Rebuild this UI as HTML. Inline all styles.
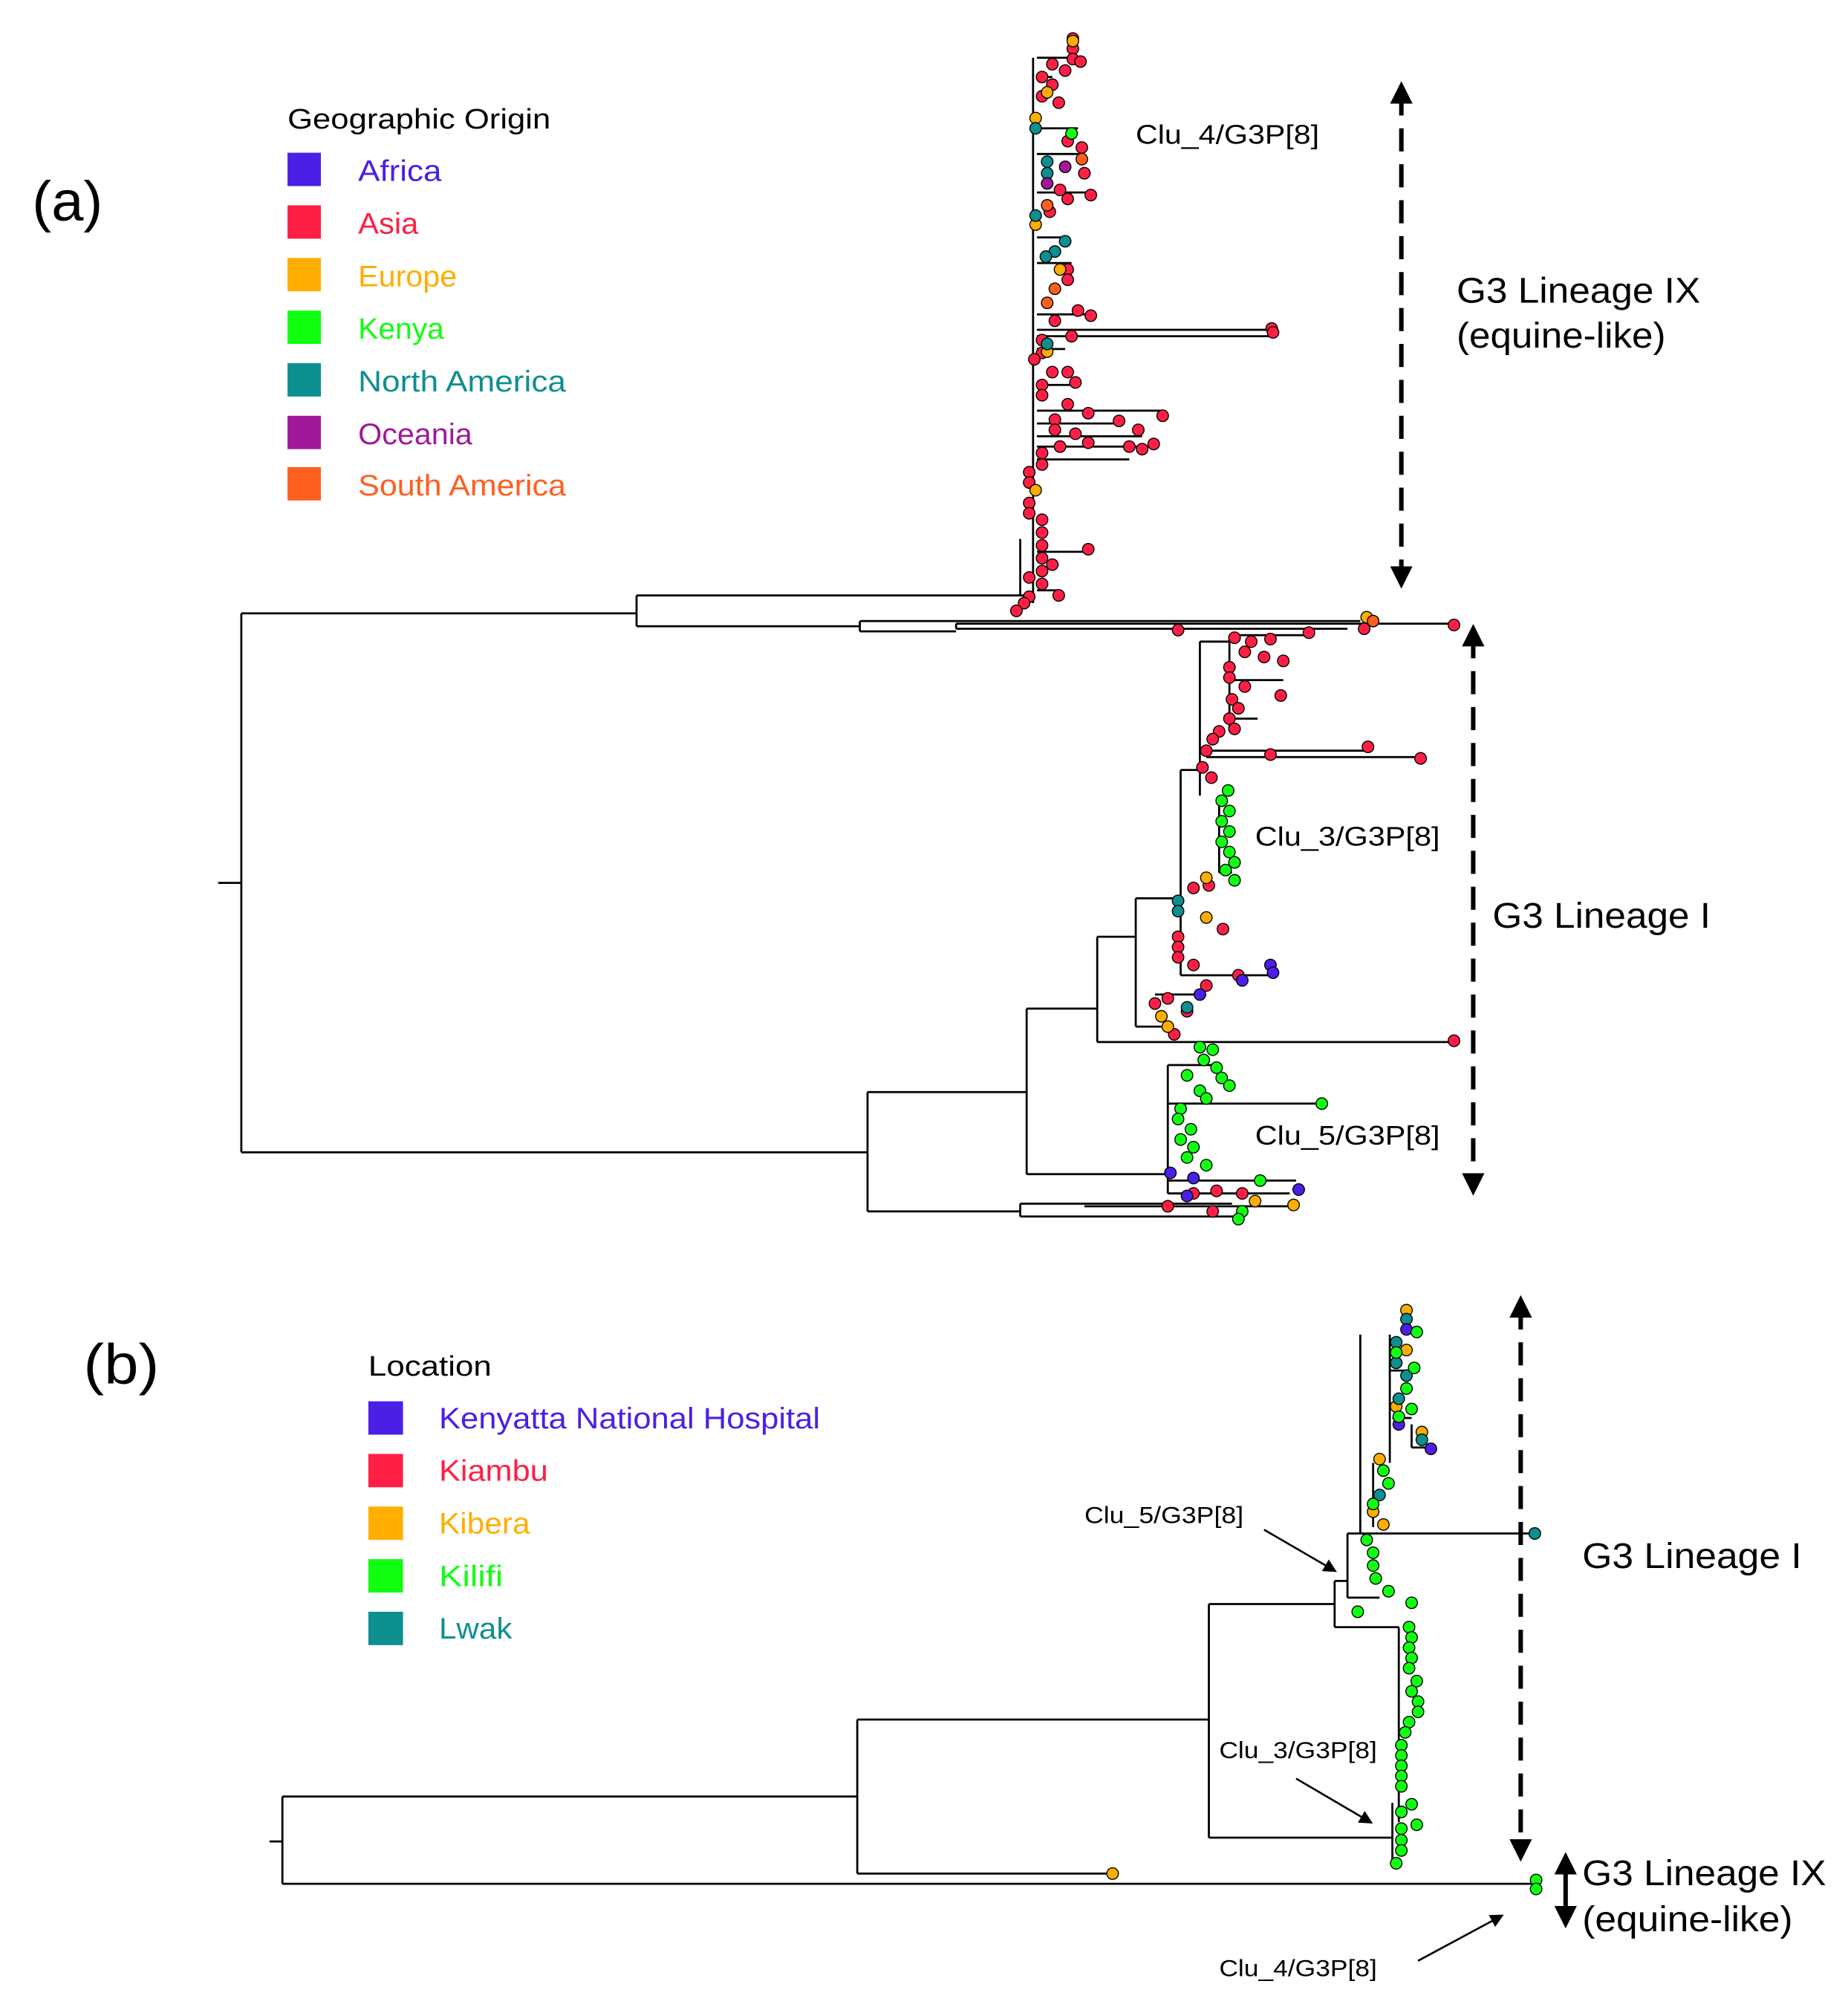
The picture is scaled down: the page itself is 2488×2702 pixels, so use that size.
<!DOCTYPE html>
<html><head><meta charset="utf-8"><style>
html,body{margin:0;padding:0;background:#fff}
svg{display:block}
text{font-family:"Liberation Sans",sans-serif}
</style></head><body>
<svg width="2488" height="2702" viewBox="0 0 1440 1564" xmlns="http://www.w3.org/2000/svg">
<defs>
<marker id="ah" viewBox="0 0 10 10" refX="5" refY="5" markerWidth="5" markerHeight="5" orient="auto-start-reverse"><path d="M0,0L10,5L0,10z" fill="#000"/></marker>
<marker id="ah2" viewBox="0 0 10 10" refX="8" refY="5" markerWidth="7" markerHeight="7" orient="auto"><path d="M0,0L10,5L0,10z" fill="#000"/></marker>
</defs>
<rect width="1440" height="1564" fill="#fff"/>
<!-- panel a labels -->
<text x="25" y="172" font-size="44" textLength="55" lengthAdjust="spacingAndGlyphs">(a)</text>
<text x="224" y="100" font-size="22" textLength="205" lengthAdjust="spacingAndGlyphs">Geographic Origin</text>
<g font-size="23">
<rect x="224" y="119" width="26" height="26" fill="#4b1fe6"/><text x="279" y="141" fill="#4b1fe6" textLength="65" lengthAdjust="spacingAndGlyphs">Africa</text>
<rect x="224" y="160" width="26" height="26" fill="#ff1f44"/><text x="279" y="182" fill="#ff1f44" textLength="47" lengthAdjust="spacingAndGlyphs">Asia</text>
<rect x="224" y="201" width="26" height="26" fill="#ffae00"/><text x="279" y="223" fill="#ffae00" textLength="77" lengthAdjust="spacingAndGlyphs">Europe</text>
<rect x="224" y="242" width="26" height="26" fill="#11ff11"/><text x="279" y="264" fill="#11ff11" textLength="67" lengthAdjust="spacingAndGlyphs">Kenya</text>
<rect x="224" y="283" width="26" height="26" fill="#0d8f8f"/><text x="279" y="305" fill="#0d8f8f" textLength="162" lengthAdjust="spacingAndGlyphs">North America</text>
<rect x="224" y="324" width="26" height="26" fill="#a0199a"/><text x="279" y="346" fill="#a0199a" textLength="89" lengthAdjust="spacingAndGlyphs">Oceania</text>
<rect x="224" y="364" width="26" height="26" fill="#ff5f1f"/><text x="279" y="386" fill="#ff5f1f" textLength="162" lengthAdjust="spacingAndGlyphs">South America</text>
</g>
<text x="885" y="112" font-size="21" textLength="143" lengthAdjust="spacingAndGlyphs">Clu_4/G3P[8]</text>
<text x="978" y="659" font-size="21" textLength="144" lengthAdjust="spacingAndGlyphs">Clu_3/G3P[8]</text>
<text x="978" y="892" font-size="21" textLength="144" lengthAdjust="spacingAndGlyphs">Clu_5/G3P[8]</text>
<text x="1135" y="236" font-size="28" textLength="190" lengthAdjust="spacingAndGlyphs">G3 Lineage IX</text>
<text x="1135" y="271" font-size="28" textLength="163" lengthAdjust="spacingAndGlyphs">(equine-like)</text>
<text x="1163" y="723" font-size="28" textLength="170" lengthAdjust="spacingAndGlyphs">G3 Lineage I</text>
<line x1="1092" y1="72" x2="1092" y2="450" stroke="#000" stroke-width="3.5" stroke-dasharray="18,10" marker-start="url(#ah)" marker-end="url(#ah)"/>
<line x1="1148" y1="495" x2="1148" y2="923" stroke="#000" stroke-width="3.5" stroke-dasharray="18,10" marker-start="url(#ah)" marker-end="url(#ah)"/>
<!-- tree a -->
<g stroke="#000" stroke-width="1.6" fill="none">
<path d="M170,688H188M188,478V898M188,478H496M188,898H676"/>
<path d="M496,464V488M496,464H795M496,488H670M670,484V492M670,484H1060M670,492H745M745,486V490M745,486H1130M745,490H1050"/>
<path d="M795,464V420M795,464H805M805,45V470M808,45H835M808,60H820M808,100H840M808,120H845M808,150H850M808,185H830M808,205H835M808,245H850M808,257H990M808,262H990M808,272H830M808,300H835M808,320H905M808,330H870M808,340H890M808,348H895M808,358H880M808,430H848M808,460H825"/>
<path d="M676,851V944M676,851H800M676,944H795M800,786V915M800,786H855M800,915H910M855,730V812M855,730H885M855,812H1130M885,700V800M885,700H920M885,800H905M920,600V760M920,600H935M935,500V620M935,500H960M958,495V570M958,495H1020M960,530H1000M960,560H980M940,590H1105M940,585H1065M950,620V680M950,680H960M920,760H990M900,775H940"/>
<path d="M910,830V930M910,830H945M910,860H1030M910,920H1010M910,930H1005M795,938V948M795,938H960M795,948H970M845,940H1008"/>
</g>
<g stroke="#000" stroke-width="0.8">
<g fill="#ff1f44">
<circle cx="836" cy="30" r="4.5"/><circle cx="836" cy="38" r="4.5"/><circle cx="836" cy="46" r="4.5"/><circle cx="842" cy="48" r="4.5"/><circle cx="820" cy="50" r="4.5"/><circle cx="830" cy="55" r="4.5"/><circle cx="812" cy="60" r="4.5"/><circle cx="820" cy="66" r="4.5"/><circle cx="812" cy="75" r="4.5"/><circle cx="825" cy="80" r="4.5"/>
<circle cx="832" cy="110" r="4.5"/><circle cx="843" cy="115" r="4.5"/><circle cx="845" cy="135" r="4.5"/><circle cx="826" cy="148" r="4.5"/><circle cx="850" cy="152" r="4.5"/><circle cx="832" cy="155" r="4.5"/><circle cx="818" cy="165" r="4.5"/>
<circle cx="832" cy="210" r="4.5"/><circle cx="832" cy="218" r="4.5"/><circle cx="840" cy="242" r="4.5"/><circle cx="850" cy="246" r="4.5"/><circle cx="822" cy="250" r="4.5"/><circle cx="991" cy="256" r="4.5"/><circle cx="992" cy="259" r="4.5"/><circle cx="835" cy="262" r="4.5"/><circle cx="812" cy="265" r="4.5"/><circle cx="812" cy="275" r="4.5"/><circle cx="806" cy="280" r="4.5"/>
<circle cx="820" cy="290" r="4.5"/><circle cx="832" cy="290" r="4.5"/><circle cx="838" cy="298" r="4.5"/><circle cx="812" cy="300" r="4.5"/><circle cx="812" cy="308" r="4.5"/><circle cx="832" cy="315" r="4.5"/><circle cx="848" cy="322" r="4.5"/><circle cx="906" cy="324" r="4.5"/><circle cx="822" cy="327" r="4.5"/><circle cx="872" cy="328" r="4.5"/><circle cx="822" cy="335" r="4.5"/><circle cx="887" cy="335" r="4.5"/><circle cx="838" cy="338" r="4.5"/><circle cx="848" cy="345" r="4.5"/><circle cx="880" cy="348" r="4.5"/><circle cx="899" cy="346" r="4.5"/><circle cx="890" cy="350" r="4.5"/><circle cx="826" cy="348" r="4.5"/><circle cx="812" cy="353" r="4.5"/><circle cx="812" cy="362" r="4.5"/><circle cx="802" cy="368" r="4.5"/><circle cx="802" cy="376" r="4.5"/><circle cx="802" cy="392" r="4.5"/><circle cx="802" cy="400" r="4.5"/><circle cx="812" cy="405" r="4.5"/><circle cx="812" cy="415" r="4.5"/><circle cx="812" cy="425" r="4.5"/><circle cx="848" cy="428" r="4.5"/><circle cx="812" cy="435" r="4.5"/><circle cx="820" cy="440" r="4.5"/><circle cx="812" cy="445" r="4.5"/><circle cx="802" cy="450" r="4.5"/><circle cx="812" cy="455" r="4.5"/><circle cx="825" cy="464" r="4.5"/><circle cx="802" cy="465" r="4.5"/><circle cx="798" cy="470" r="4.5"/><circle cx="792" cy="476" r="4.5"/>
<circle cx="1133" cy="487" r="4.5"/><circle cx="1063" cy="490" r="4.5"/><circle cx="918" cy="491" r="4.5"/><circle cx="1020" cy="493" r="4.5"/>
</g>
<g fill="#ffae00"><circle cx="836" cy="32" r="4.5"/><circle cx="816" cy="72" r="4.5"/><circle cx="807" cy="92" r="4.5"/><circle cx="807" cy="175" r="4.5"/><circle cx="826" cy="210" r="4.5"/><circle cx="816" cy="274" r="4.5"/><circle cx="807" cy="382" r="4.5"/><circle cx="1065" cy="481" r="4.5"/></g>
<g fill="#0d8f8f"><circle cx="807" cy="100" r="4.5"/><circle cx="816" cy="126" r="4.5"/><circle cx="816" cy="135" r="4.5"/><circle cx="807" cy="168" r="4.5"/><circle cx="830" cy="188" r="4.5"/><circle cx="822" cy="196" r="4.5"/><circle cx="815" cy="200" r="4.5"/><circle cx="816" cy="268" r="4.5"/></g>
<g fill="#11ff11"><circle cx="835" cy="104" r="4.5"/></g>
<g fill="#a0199a"><circle cx="830" cy="130" r="4.5"/><circle cx="816" cy="143" r="4.5"/></g>
<g fill="#ff5f1f"><circle cx="843" cy="124" r="4.5"/><circle cx="816" cy="160" r="4.5"/><circle cx="822" cy="225" r="4.5"/><circle cx="816" cy="236" r="4.5"/><circle cx="1070" cy="484" r="4.5"/></g>
<g fill="#ff1f44">
<circle cx="962" cy="497" r="4.5"/><circle cx="975" cy="500" r="4.5"/><circle cx="990" cy="498" r="4.5"/><circle cx="970" cy="508" r="4.5"/><circle cx="985" cy="512" r="4.5"/><circle cx="1000" cy="515" r="4.5"/><circle cx="958" cy="520" r="4.5"/><circle cx="958" cy="528" r="4.5"/><circle cx="970" cy="535" r="4.5"/><circle cx="998" cy="542" r="4.5"/><circle cx="960" cy="545" r="4.5"/><circle cx="965" cy="552" r="4.5"/><circle cx="958" cy="560" r="4.5"/><circle cx="950" cy="570" r="4.5"/><circle cx="962" cy="568" r="4.5"/><circle cx="945" cy="576" r="4.5"/><circle cx="940" cy="585" r="4.5"/><circle cx="990" cy="588" r="4.5"/><circle cx="1066" cy="582" r="4.5"/><circle cx="1107" cy="591" r="4.5"/><circle cx="937" cy="598" r="4.5"/><circle cx="944" cy="606" r="4.5"/><circle cx="930" cy="692" r="4.5"/><circle cx="942" cy="690" r="4.5"/><circle cx="953" cy="724" r="4.5"/><circle cx="918" cy="730" r="4.5"/><circle cx="918" cy="738" r="4.5"/><circle cx="918" cy="746" r="4.5"/><circle cx="930" cy="752" r="4.5"/><circle cx="965" cy="760" r="4.5"/><circle cx="940" cy="768" r="4.5"/><circle cx="910" cy="778" r="4.5"/><circle cx="900" cy="782" r="4.5"/><circle cx="925" cy="788" r="4.5"/><circle cx="1133" cy="811" r="4.5"/><circle cx="915" cy="806" r="4.5"/><circle cx="910" cy="940" r="4.5"/><circle cx="930" cy="930" r="4.5"/><circle cx="948" cy="928" r="4.5"/><circle cx="968" cy="930" r="4.5"/><circle cx="945" cy="944" r="4.5"/>
</g>
<g fill="#11ff11">
<circle cx="957" cy="616" r="4.5"/><circle cx="952" cy="624" r="4.5"/><circle cx="958" cy="632" r="4.5"/><circle cx="952" cy="640" r="4.5"/><circle cx="958" cy="648" r="4.5"/><circle cx="952" cy="656" r="4.5"/><circle cx="958" cy="664" r="4.5"/><circle cx="962" cy="672" r="4.5"/><circle cx="955" cy="678" r="4.5"/><circle cx="962" cy="686" r="4.5"/>
<circle cx="935" cy="816" r="4.5"/><circle cx="945" cy="818" r="4.5"/><circle cx="938" cy="826" r="4.5"/><circle cx="948" cy="832" r="4.5"/><circle cx="925" cy="838" r="4.5"/><circle cx="952" cy="840" r="4.5"/><circle cx="958" cy="846" r="4.5"/><circle cx="935" cy="850" r="4.5"/><circle cx="940" cy="856" r="4.5"/><circle cx="1030" cy="860" r="4.5"/><circle cx="920" cy="864" r="4.5"/><circle cx="918" cy="872" r="4.5"/><circle cx="928" cy="880" r="4.5"/><circle cx="920" cy="888" r="4.5"/><circle cx="930" cy="894" r="4.5"/><circle cx="925" cy="902" r="4.5"/><circle cx="940" cy="908" r="4.5"/><circle cx="982" cy="920" r="4.5"/><circle cx="968" cy="944" r="4.5"/><circle cx="965" cy="950" r="4.5"/>
</g>
<g fill="#0d8f8f"><circle cx="918" cy="702" r="4.5"/><circle cx="918" cy="710" r="4.5"/><circle cx="925" cy="785" r="4.5"/></g>
<g fill="#ffae00"><circle cx="940" cy="684" r="4.5"/><circle cx="940" cy="715" r="4.5"/><circle cx="905" cy="792" r="4.5"/><circle cx="910" cy="800" r="4.5"/><circle cx="1008" cy="939" r="4.5"/><circle cx="978" cy="936" r="4.5"/></g>
<g fill="#4b1fe6"><circle cx="990" cy="752" r="4.5"/><circle cx="992" cy="758" r="4.5"/><circle cx="968" cy="764" r="4.5"/><circle cx="935" cy="775" r="4.5"/><circle cx="912" cy="914" r="4.5"/><circle cx="930" cy="918" r="4.5"/><circle cx="1012" cy="927" r="4.5"/><circle cx="925" cy="932" r="4.5"/></g>
</g>
<!-- panel b -->
<text x="65" y="1078" font-size="44" textLength="59" lengthAdjust="spacingAndGlyphs">(b)</text>
<text x="287" y="1072" font-size="22" textLength="96" lengthAdjust="spacingAndGlyphs">Location</text>
<g font-size="23">
<rect x="287" y="1092" width="27" height="26" fill="#4b1fe6"/><text x="342" y="1113" fill="#4b1fe6" textLength="297" lengthAdjust="spacingAndGlyphs">Kenyatta National Hospital</text>
<rect x="287" y="1133" width="27" height="26" fill="#ff1f44"/><text x="342" y="1154" fill="#ff1f44" textLength="85" lengthAdjust="spacingAndGlyphs">Kiambu</text>
<rect x="287" y="1174" width="27" height="26" fill="#ffae00"/><text x="342" y="1195" fill="#ffae00" textLength="71" lengthAdjust="spacingAndGlyphs">Kibera</text>
<rect x="287" y="1215" width="27" height="26" fill="#11ff11"/><text x="342" y="1236" fill="#11ff11" textLength="50" lengthAdjust="spacingAndGlyphs">Kilifi</text>
<rect x="287" y="1256" width="27" height="26" fill="#0d8f8f"/><text x="342" y="1277" fill="#0d8f8f" textLength="57" lengthAdjust="spacingAndGlyphs">Lwak</text>
</g>
<text x="1233" y="1222" font-size="28" textLength="171" lengthAdjust="spacingAndGlyphs">G3 Lineage I</text>
<text x="1233" y="1469" font-size="28" textLength="190" lengthAdjust="spacingAndGlyphs">G3 Lineage IX</text>
<text x="1233" y="1505" font-size="28" textLength="164" lengthAdjust="spacingAndGlyphs">(equine-like)</text>
<text x="845" y="1187" font-size="18" textLength="124" lengthAdjust="spacingAndGlyphs">Clu_5/G3P[8]</text>
<text x="950" y="1370" font-size="18" textLength="123" lengthAdjust="spacingAndGlyphs">Clu_3/G3P[8]</text>
<text x="950" y="1540" font-size="18" textLength="123" lengthAdjust="spacingAndGlyphs">Clu_4/G3P[8]</text>
<line x1="1185" y1="1018" x2="1185" y2="1442" stroke="#000" stroke-width="3.5" stroke-dasharray="18,10" marker-start="url(#ah)" marker-end="url(#ah)"/>
<line x1="1220" y1="1452" x2="1220" y2="1494" stroke="#000" stroke-width="3.5" marker-start="url(#ah)" marker-end="url(#ah)"/>
<g stroke="#000" stroke-width="1.5"><line x1="985" y1="1192" x2="1040" y2="1224" marker-end="url(#ah2)"/><line x1="1010" y1="1386" x2="1068" y2="1420" marker-end="url(#ah2)"/><line x1="1105" y1="1528" x2="1170" y2="1493" marker-end="url(#ah2)"/></g>
<g stroke="#000" stroke-width="1.6" fill="none">
<path d="M210,1435H220M220,1400V1468M220,1400H668M220,1468H1195M668,1340V1460M668,1340H942M668,1460H865M942,1250V1432M942,1250H1040M942,1432H1085M1085,1405V1452"/>
<path d="M1040,1232V1268M1040,1232H1050M1040,1268H1090M1090,1268V1420M1050,1195V1245M1050,1245H1075M1050,1195H1060M1060,1040V1195M1060,1195H1195M1070,1140V1190M1083,1040V1140M1083,1068H1095M1085,1105H1100M1100,1110V1128M1100,1128H1115"/>
</g>
<g stroke="#000" stroke-width="0.8">
<g fill="#ffae00"><circle cx="1096" cy="1021" r="4.5"/><circle cx="1096" cy="1052" r="4.5"/><circle cx="1088" cy="1096" r="4.5"/><circle cx="1108" cy="1116" r="4.5"/><circle cx="1075" cy="1137" r="4.5"/><circle cx="1070" cy="1178" r="4.5"/><circle cx="1078" cy="1188" r="4.5"/><circle cx="867" cy="1460" r="4.5"/></g>
<g fill="#0d8f8f"><circle cx="1096" cy="1028" r="4.5"/><circle cx="1088" cy="1046" r="4.5"/><circle cx="1088" cy="1062" r="4.5"/><circle cx="1096" cy="1072" r="4.5"/><circle cx="1090" cy="1090" r="4.5"/><circle cx="1108" cy="1122" r="4.5"/><circle cx="1075" cy="1165" r="4.5"/><circle cx="1196" cy="1195" r="4.5"/></g>
<g fill="#4b1fe6"><circle cx="1096" cy="1036" r="4.5"/><circle cx="1090" cy="1110" r="4.5"/><circle cx="1115" cy="1129" r="4.5"/></g>
<g fill="#11ff11">
<circle cx="1104" cy="1038" r="4.5"/><circle cx="1088" cy="1054" r="4.5"/><circle cx="1102" cy="1066" r="4.5"/><circle cx="1096" cy="1082" r="4.5"/><circle cx="1100" cy="1098" r="4.5"/><circle cx="1090" cy="1104" r="4.5"/><circle cx="1078" cy="1146" r="4.5"/><circle cx="1082" cy="1156" r="4.5"/><circle cx="1070" cy="1172" r="4.5"/><circle cx="1065" cy="1200" r="4.5"/><circle cx="1070" cy="1210" r="4.5"/><circle cx="1070" cy="1220" r="4.5"/><circle cx="1072" cy="1230" r="4.5"/><circle cx="1082" cy="1240" r="4.5"/><circle cx="1100" cy="1249" r="4.5"/><circle cx="1058" cy="1256" r="4.5"/>
<circle cx="1098" cy="1268" r="4.5"/><circle cx="1100" cy="1276" r="4.5"/><circle cx="1098" cy="1284" r="4.5"/><circle cx="1100" cy="1292" r="4.5"/><circle cx="1098" cy="1300" r="4.5"/><circle cx="1104" cy="1310" r="4.5"/><circle cx="1100" cy="1318" r="4.5"/><circle cx="1105" cy="1326" r="4.5"/><circle cx="1105" cy="1334" r="4.5"/><circle cx="1098" cy="1342" r="4.5"/><circle cx="1095" cy="1350" r="4.5"/><circle cx="1092" cy="1360" r="4.5"/><circle cx="1092" cy="1368" r="4.5"/><circle cx="1092" cy="1376" r="4.5"/><circle cx="1092" cy="1384" r="4.5"/><circle cx="1092" cy="1392" r="4.5"/><circle cx="1100" cy="1406" r="4.5"/><circle cx="1104" cy="1422" r="4.5"/><circle cx="1092" cy="1412" r="4.5"/><circle cx="1092" cy="1425" r="4.5"/><circle cx="1092" cy="1434" r="4.5"/><circle cx="1092" cy="1442" r="4.5"/><circle cx="1088" cy="1452" r="4.5"/>
<circle cx="1197" cy="1465" r="4.5"/><circle cx="1197" cy="1472" r="4.5"/>
</g>
</g>
</svg>
</body></html>
